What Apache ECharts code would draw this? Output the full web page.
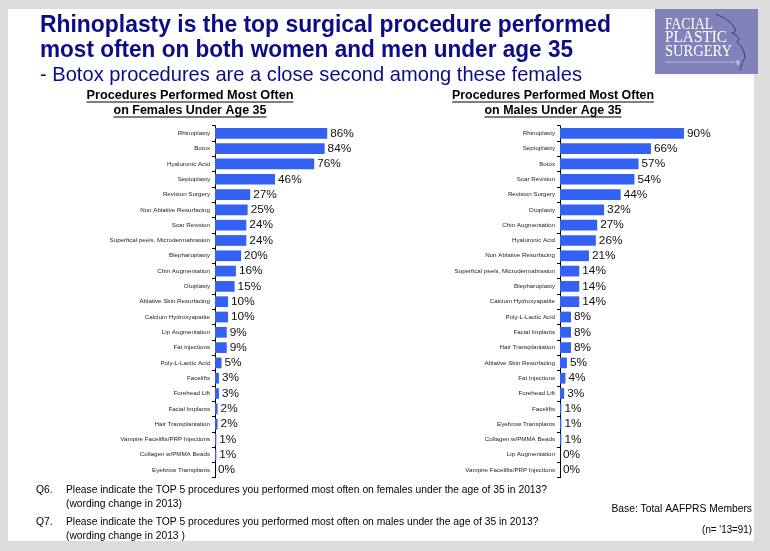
<!DOCTYPE html>
<html>
<head>
<meta charset="utf-8">
<script src="https://cdn.jsdelivr.net/npm/echarts@6/dist/echarts.min.js"></script>
<style>
html,body{margin:0;padding:0;background:#dcdcdc;}
#chart{width:770px;height:551px;}
</style>
</head>
<body>
<div id="chart"></div>
<script>
// ---- Data ----
const femaleCategories = ['Rhinoplasty','Botox','Hyaluronic Acid','Septoplasty','Revision Surgery','Non Ablative Resurfacing','Scar Revision','Superfical peels, Microdermabrasion','Blepharoplasty','Chin Augmentation','Otoplasty','Ablative Skin Resurfacing','Calcium Hydroxyapatite','Lip Augmentation','Fat injections','Poly-L-Lactic Acid','Facelifts','Forehead Lift','Facial Implants','Hair Transplantation','Vampire Facelifts/PRP Injections','Collagen w/PMMA Beads','Eyebrow Transplants'];
const femaleValues = [86,84,76,46,27,25,24,24,20,16,15,10,10,9,9,5,3,3,2,2,1,1,0];

const maleCategories = ['Rhinoplasty','Septoplasty','Botox','Scar Revision','Revision Surgery','Otoplasty','Chin Augmentation','Hyaluronic Acid','Non Ablative Resurfacing','Superfical peels, Microdermabrasion','Blepharoplasty','Calcium Hydroxyapatite','Poly-L-Lactic Acid','Facial Implants','Hair Transplantation','Ablative Skin Resurfacing','Fat Injections','Forehead Lift','Facelifts','Eyebrow Transplants','Collagen w/PMMA Beads','Lip Augmentation','Vampire Facelifts/PRP Injections'];
const maleValues = [90,66,57,54,44,32,27,26,21,14,14,14,8,8,8,5,4,3,1,1,1,0,0];

const titleLines = ['Rhinoplasty is the top surgical procedure performed','most often on both women and men under age 35'];
const titleSubLine = '- Botox procedures are a close second among these females';
const femaleHeading = ['Procedures Performed Most Often','on Females Under Age 35'];
const maleHeading = ['Procedures Performed Most Often','on Males Under Age 35'];
const footQ6 = ['Q6.','Please indicate the TOP 5 procedures you performed most often on females under the age of 35 in 2013?','(wording change in 2013)'];
const footQ7 = ['Q7.','Please indicate the TOP 5 procedures you performed most often on males under the age of 35 in 2013?','(wording change in 2013 )'];
const baseNote = 'Base: Total AAFPRS Members';
const nNote = "(n= '13=91)";
const logoLines = ['FACIAL','PLASTIC','SURGERY'];

// ---- helpers ----
const FF = '"Liberation Sans", Arial, sans-serif';
const SERIF = '"Liberation Serif", "DejaVu Serif", serif';
const mctx = document.createElement('canvas').getContext('2d');
function measure(text, size, weight, family){
  mctx.font = (weight||'normal') + ' ' + size + 'px ' + (family||FF);
  return mctx.measureText(text).width;
}
function txt(text, x, y, size, opts){
  opts = opts || {};
  const w = measure(text, size, opts.weight, opts.family);
  const sx = opts.width ? opts.width / w : (opts.scaleX || 1);
  return {
    type:'text', x:x, y:y, scaleX:sx, z:10,
    style:{text:text, fontSize:size, fontWeight:opts.weight||'normal', fontFamily:opts.family||FF,
      fill:opts.color||'#000', textAlign:opts.align||'left', textVerticalAlign:'middle'}
  };
}
function underlined(text, cx, y, size, width){
  const els = [txt(text, cx, y, size, {weight:'bold', width:width, align:'center', color:'#000'})];
  els.push({type:'line', z:10, shape:{x1:cx-width/2, y1:y+7, x2:cx+width/2, y2:y+7}, style:{stroke:'#000', lineWidth:1}});
  return els;
}

const navy = '#0c0c86';
const barColor = '#3461f2';

let graphics = [
  {type:'rect', z:0, shape:{x:8,y:9,width:746,height:532}, style:{fill:'#ffffff'}},
  // logo
  {type:'rect', z:5, shape:{x:655,y:9,width:103,height:65}, style:{fill:'#8282ba'}},
  {type:'polyline', z:6, shape:{points:[[716,14],[724,18],[730,22],[734,27],[736,31],[732,33],[736,35],[739,39],[737,42],[741,46],[744,52],[745,58],[742,63],[740,70]]}, style:{stroke:'#3c3c6e', lineWidth:1, fill:null}},
  {type:'line', z:6, shape:{x1:666,y1:62,x2:735,y2:62}, style:{stroke:'#b9b9dc', lineWidth:1}},
  {type:'text', z:6, x:738, y:63, style:{text:'®', fontSize:6, fill:'#ffffff', textAlign:'center', textVerticalAlign:'middle', fontFamily:FF}}
];
graphics.push(txt(logoLines[0], 665, 24.5, 17, {family:SERIF, width:48, color:'#ffffff'}));
graphics.push(txt(logoLines[1], 665, 38, 17, {family:SERIF, width:62, color:'#ffffff'}));
graphics.push(txt(logoLines[2], 665, 52, 17, {family:SERIF, width:67, color:'#ffffff'}));

// title
graphics.push(txt(titleLines[0], 40, 25.5, 24, {weight:'bold', width:571, color:navy}));
graphics.push(txt(titleLines[1], 40, 50, 24, {weight:'bold', width:533, color:navy}));
graphics.push(txt(titleSubLine, 40, 75, 21, {width:542, color:navy}));

// headings
graphics = graphics.concat(underlined(femaleHeading[0], 190, 95, 13.5, 207));
graphics = graphics.concat(underlined(femaleHeading[1], 190, 110, 13.5, 153));
graphics = graphics.concat(underlined(maleHeading[0], 553, 95, 13.5, 202));
graphics = graphics.concat(underlined(maleHeading[1], 553, 110, 13.5, 137));

// footer
const footScale = 481 / measure(footQ6[1], 11);
graphics.push(txt(footQ6[0], 36, 490, 11, {scaleX:footScale}));
graphics.push(txt(footQ6[1], 66, 490, 11, {scaleX:footScale}));
graphics.push(txt(footQ6[2], 66, 504, 11, {scaleX:footScale}));
graphics.push(txt(footQ7[0], 36, 522, 11, {scaleX:footScale}));
graphics.push(txt(footQ7[1], 66, 522, 11, {scaleX:footScale}));
graphics.push(txt(footQ7[2], 66, 536, 11, {scaleX:footScale}));
graphics.push(txt(baseNote, 752, 509, 11, {scaleX:footScale, align:'right'}));
graphics.push(txt(nNote, 752, 530, 10.5, {scaleX:footScale, align:'right'}));

const chart = echarts.init(document.getElementById('chart'), null, {renderer:'canvas'});

function yAx(gi, cats){
  return {
    gridIndex:gi, type:'category', data:cats, inverse:true,
    axisLine:{show:true, lineStyle:{color:'#000', width:1}},
    axisTick:{show:true, length:3, inside:false, lineStyle:{color:'#000'}},
    axisLabel:{fontSize:6.2, color:'#222', margin:5, interval:0, fontFamily:FF}
  };
}
function xAx(gi){
  return {gridIndex:gi, type:'value', min:0, max:100, show:false, splitLine:{show:false}};
}
function barSeries(i, vals){
  return {
    type:'bar', xAxisIndex:i, yAxisIndex:i, data:vals, barWidth:'70%',
    itemStyle:{color:barColor}, animation:false,
    label:{show:true, position:'right', distance:3, formatter:'{c}%', fontSize:11.8, color:'#111', fontFamily:FF}
  };
}

chart.setOption({
  backgroundColor:'#dcdcdc',
  animation:false,
  grid:[
    {left:215, top:125.7, width:130.5, height:352},
    {left:560, top:125.7, width:137.8, height:352}
  ],
  xAxis:[xAx(0), xAx(1)],
  yAxis:[yAx(0, femaleCategories), yAx(1, maleCategories)],
  series:[barSeries(0, femaleValues), barSeries(1, maleValues)],
  graphic:{elements:graphics}
});
</script>
</body>
</html>
